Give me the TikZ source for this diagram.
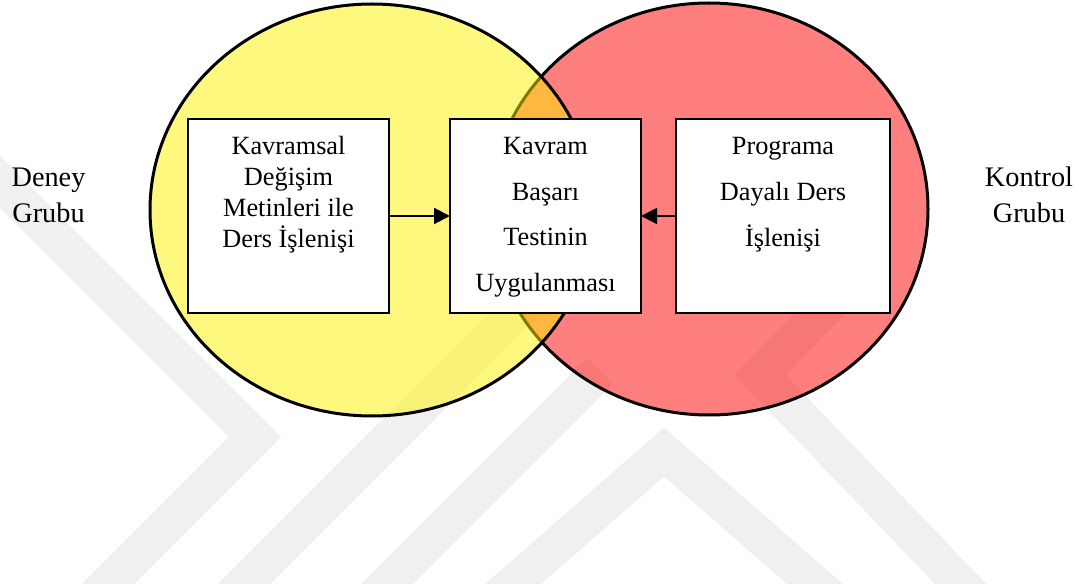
\documentclass[tikz,border=0pt]{standalone}
\usepackage{fontspec}
\setmainfont{Liberation Serif}
\usetikzlibrary{arrows.meta}
\newcommand{\vennboxtext}[4]{\begin{minipage}[t][#2][t]{#1}\centering\fontsize{26.3pt}{#3}\selectfont\rule{0pt}{36pt}#4\end{minipage}}
\tikzset{
  wm/.style={draw=black!6, line width=37pt, line join=miter, miter limit=10},
  venn/.style={line width=3pt, draw=black, fill opacity=0.5},
  boxnode/.style={draw=black, line width=2pt, fill=white, inner sep=0pt, outer sep=0pt, anchor=north west},
  arr/.style={line width=2pt, -{Triangle[length=16pt,width=16pt]}},
  sidelbl/.style={align=center, inner sep=0pt, anchor=north, font=\fontsize{28.3pt}{36pt}\selectfont},
}
\begin{document}
\begin{tikzpicture}[x=1pt,y=-1pt]
\useasboundingbox (0,0) rectangle (1079,588);
% watermark
\begin{scope}
  \clip (0,0) rectangle (1079,583);
  \draw[wm] (-30,152) -- (255,437) -- (90,602);
  \draw[wm] (226,602) -- (545,283);
  \draw[wm] (369,602) -- (600,371);
  \draw[wm] (488,606) -- (664,452) -- (840,606);
  \draw[wm] (980,604) -- (760,375) -- (860,273);
\end{scope}
% circles
\path[venn, fill=red] (709,209) ellipse [x radius=219pt, y radius=206pt];
\path[venn, fill=yellow] (372,210) ellipse [x radius=222pt, y radius=206pt];
% boxes
\node[boxnode] (lb) at (188,119) {\vennboxtext{201pt}{194pt}{31pt}{Kavramsal\\Değişim\\Metinleri ile\\Ders İşlenişi}};
\node[boxnode] (cb) at (450,119) {\vennboxtext{191pt}{194pt}{45.5pt}{Kavram\\Başarı\\Testinin\\Uygulanması}};
\node[boxnode] (rb) at (676,119) {\vennboxtext{214pt}{194pt}{46pt}{Programa\\Dayalı Ders\\İşlenişi}};
% arrows
\draw[arr] (lb) -- (cb);
\draw[arr] (rb) -- (cb);
% side labels
\node[sidelbl] (deney) at (48.5,164) {\rule{0pt}{22pt}Deney\\Grubu};
\node[sidelbl] (kontrol) at (1029,164) {\rule{0pt}{22pt}Kontrol\\Grubu};
\end{tikzpicture}
\end{document}
